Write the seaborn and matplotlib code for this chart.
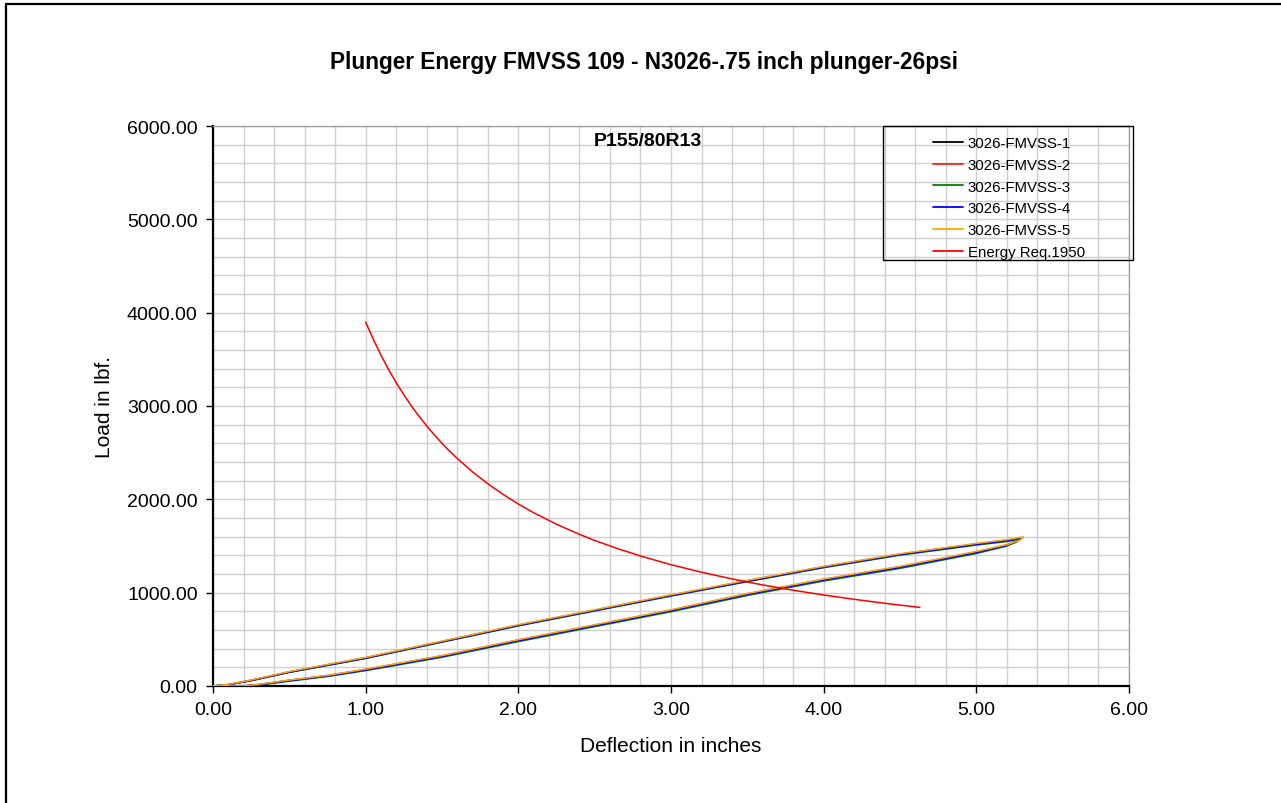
import numpy as np
import pandas as pd
import matplotlib
matplotlib.use("Agg")
import matplotlib.pyplot as plt
from matplotlib.lines import Line2D
from matplotlib.patches import Rectangle
from matplotlib.ticker import MultipleLocator, FormatStrFormatter
import seaborn as sns

# ---------------- data ----------------
defl_1 = [0.00, 0.10, 0.25, 0.50, 0.75, 1.00, 1.50, 2.00, 2.50, 3.00, 3.50, 4.00, 4.50, 5.00, 5.20, 5.29,
          5.27, 5.20, 5.00, 4.50, 4.00, 3.50, 3.00, 2.50, 2.00, 1.50, 1.00, 0.75, 0.50, 0.30, 0.20, 0.00]
load_1 = [0, 15, 60, 150, 225, 300, 475, 650, 810, 970, 1125, 1275, 1410, 1520, 1560, 1585,
          1555, 1510, 1435, 1275, 1140, 985, 810, 650, 490, 320, 175, 110, 60, 15, 0, 0]

defl_2 = [0.00, 0.10, 0.25, 0.50, 0.75, 1.00, 1.50, 2.00, 2.50, 3.00, 3.50, 4.00, 4.50, 5.00, 5.20, 5.29,
          5.27, 5.20, 5.00, 4.50, 4.00, 3.50, 3.00, 2.50, 2.00, 1.50, 1.00, 0.75, 0.50, 0.30, 0.20, 0.00]
load_2 = [0, 15, 62, 152, 228, 303, 478, 653, 813, 973, 1128, 1278, 1413, 1523, 1563, 1588,
          1558, 1512, 1437, 1278, 1143, 988, 813, 653, 493, 323, 178, 112, 62, 16, 0, 0]

defl_3 = [0.00, 0.10, 0.25, 0.50, 0.75, 1.00, 1.50, 2.00, 2.50, 3.00, 3.50, 4.00, 4.50, 5.00, 5.20, 5.28,
          5.26, 5.19, 5.00, 4.50, 4.00, 3.50, 3.00, 2.50, 2.00, 1.50, 1.00, 0.75, 0.50, 0.30, 0.20, 0.00]
load_3 = [0, 13, 57, 146, 220, 295, 470, 644, 804, 963, 1118, 1268, 1402, 1510, 1548, 1572,
          1540, 1495, 1420, 1260, 1125, 970, 796, 636, 476, 308, 165, 102, 52, 10, 0, 0]

defl_4 = [0.00, 0.10, 0.25, 0.50, 0.75, 1.00, 1.50, 2.00, 2.50, 3.00, 3.50, 4.00, 4.50, 5.00, 5.20, 5.29,
          5.27, 5.20, 5.00, 4.50, 4.00, 3.50, 3.00, 2.50, 2.00, 1.50, 1.00, 0.75, 0.50, 0.30, 0.20, 0.00]
load_4 = [0, 14, 58, 148, 223, 298, 473, 648, 808, 968, 1122, 1272, 1407, 1517, 1556, 1582,
          1552, 1506, 1430, 1270, 1135, 980, 805, 645, 485, 316, 171, 107, 57, 13, 0, 0]

defl_5 = [0.00, 0.10, 0.25, 0.50, 0.75, 1.00, 1.50, 2.00, 2.50, 3.00, 3.50, 4.00, 4.50, 5.00, 5.21, 5.31,
          5.29, 5.21, 5.00, 4.50, 4.00, 3.50, 3.00, 2.50, 2.00, 1.50, 1.00, 0.75, 0.50, 0.30, 0.20, 0.00]
load_5 = [0, 17, 64, 155, 231, 306, 481, 657, 817, 977, 1132, 1282, 1417, 1528, 1570, 1598,
          1566, 1518, 1442, 1282, 1146, 991, 816, 656, 496, 326, 181, 114, 64, 18, 0, 0]

energy_defl = [1.00, 1.05, 1.10, 1.15, 1.20, 1.25, 1.30, 1.35, 1.40, 1.45, 1.50, 1.55, 1.60, 1.70,
               1.80, 1.90, 2.00, 2.10, 2.25, 2.40, 2.50, 2.65, 2.80, 3.00, 3.20, 3.40, 3.60,
               3.80, 4.00, 4.20, 4.40, 4.63]
energy_load = [3900, 3714, 3545, 3391, 3250, 3120, 3000, 2889, 2786, 2690, 2600, 2516, 2438, 2294,
               2167, 2053, 1950, 1857, 1733, 1625, 1560, 1472, 1393, 1300, 1219, 1147, 1083,
               1026, 975, 929, 886, 842]

series_names = ["3026-FMVSS-1", "3026-FMVSS-2", "3026-FMVSS-3", "3026-FMVSS-4", "3026-FMVSS-5",
                "Energy Req.1950"]
series_colors = ["#000000", "#ff2020", "#008000", "#0000ff", "#ffa500", "#ff0000"]

title_text = "Plunger Energy FMVSS 109 - N3026-.75 inch plunger-26psi"
tire_text = "P155/80R13"
x_label = "Deflection in inches"
y_label = "Load in lbf."

# ---------------- build table ----------------
frames = []
for name, xs, ys in zip(series_names,
                        [defl_1, defl_2, defl_3, defl_4, defl_5, energy_defl],
                        [load_1, load_2, load_3, load_4, load_5, energy_load]):
    frames.append(pd.DataFrame({"defl": xs, "load": ys, "series": name}))
df = pd.concat(frames, ignore_index=True)

# ---------------- plot ----------------
sns.set_style("white")
plt.rcParams["font.family"] = ["Liberation Sans", "DejaVu Sans"]
plt.rcParams["text.color"] = "black"
plt.rcParams["axes.labelcolor"] = "black"
plt.rcParams["xtick.color"] = "black"
plt.rcParams["ytick.color"] = "black"

fig = plt.figure(figsize=(12.81, 8.04), dpi=100)
ax = fig.add_axes([213 / 1281, 1 - 687 / 804, 916 / 1281, 560 / 804])

for name, col in zip(series_names, series_colors):
    sub = df[df["series"] == name]
    sns.lineplot(data=sub, x="defl", y="load", sort=False, estimator=None,
                 color=col, linewidth=1.1, ax=ax, label=name, zorder=3)

ax.set_xlim(0, 6)
ax.set_ylim(0, 6000)
ax.xaxis.set_major_locator(MultipleLocator(1.0))
ax.xaxis.set_minor_locator(MultipleLocator(0.2))
ax.yaxis.set_major_locator(MultipleLocator(1000))
ax.yaxis.set_minor_locator(MultipleLocator(200))
ax.xaxis.set_major_formatter(FormatStrFormatter("%.2f"))
ax.yaxis.set_major_formatter(FormatStrFormatter("%.2f"))
ax.grid(which="both", color="#cfcfcf", linewidth=1.0, zorder=0)
ax.set_axisbelow(True)

ax.tick_params(axis="both", which="major", direction="out", length=5, width=1,
               color="black", labelcolor="black", labelsize=14, pad=6, left=True, bottom=True)
ax.tick_params(axis="both", which="minor", length=0)

for side in ["left", "bottom"]:
    ax.spines[side].set_color("black")
    ax.spines[side].set_linewidth(1.6)
for side in ["top", "right"]:
    ax.spines[side].set_color("#a0a0a0")
    ax.spines[side].set_linewidth(1.0)

ax.set_xlabel(x_label, fontsize=15, color="black")
ax.set_ylabel(y_label, fontsize=15, color="black")
ax.xaxis.label.set_va("center")
ax.yaxis.label.set_va("center")
ax.xaxis.set_label_coords(0.5, (687 - 747) / 560)
ax.yaxis.set_label_coords((104 - 213) / 916, 0.5)

ax.text((648 - 213) / 916, (687 - 142) / 560, tire_text, transform=ax.transAxes,
        ha="center", va="center", fontsize=14, fontweight="bold", color="black")

# legend
if ax.get_legend():
    ax.get_legend().remove()
handles = [Line2D([0], [0], color=c, linewidth=1.3) for c in series_colors]
leg = ax.legend(handles, series_names, loc="upper left",
                bbox_to_anchor=((933 - 213) / 916, (687 - 137) / 560),
                frameon=False, fontsize=10.8, handlelength=2.0, handletextpad=0.3,
                labelspacing=0.52, borderpad=0, borderaxespad=0)
for t in leg.get_texts():
    t.set_color("black")
ax.add_patch(Rectangle(((883 - 213) / 916, (687 - 261) / 560), 250 / 916, 134 / 560,
                       transform=ax.transAxes, fill=True, facecolor="none",
                       edgecolor="black", linewidth=1.0, clip_on=False, zorder=5))

fig.text(644 / 1281, 1 - 62 / 804, title_text, ha="center", va="center",
         fontsize=16.3, fontweight="bold", color="black")

# outer chart frame (left and top edges visible)
fig.add_artist(Line2D([5.5 / 1281, 5.5 / 1281], [0, 1 - 4.8 / 804], color="black",
                      linewidth=1.6, transform=fig.transFigure))
fig.add_artist(Line2D([5.5 / 1281, 1], [1 - 4.8 / 804, 1 - 4.8 / 804], color="black",
                      linewidth=1.6, transform=fig.transFigure))

fig.savefig("out.png", dpi=100)
